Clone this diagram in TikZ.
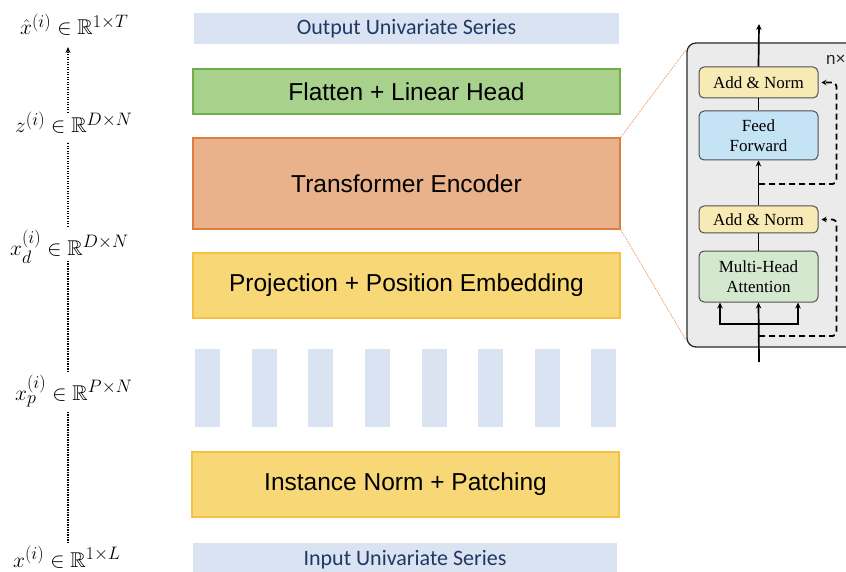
\RequirePackage{fix-cm}
\documentclass[tikz,border=0pt]{standalone}
\usepackage{fontspec}
\usepackage{amssymb}
\usetikzlibrary{arrows.meta,calc}
\newfontfamily\sansA{Liberation Sans}
\newfontfamily\sansC{Carlito}
\newfontfamily\serifT{Liberation Serif}
\DeclareMathSizes{20.74}{20.74}{17.5}{13}

\definecolor{seriesblue}{HTML}{DAE3F1}
\definecolor{navy}{HTML}{203864}
\definecolor{greenfill}{HTML}{A9D18E}
\definecolor{greenedge}{HTML}{72AE48}
\definecolor{orangefill}{HTML}{E9B28A}
\definecolor{orangeedge}{HTML}{DD7E3E}
\definecolor{yellowfill}{HTML}{F8D876}
\definecolor{yellowedge}{HTML}{F4C143}
\definecolor{panelgray}{HTML}{EBEBEB}
\definecolor{panelline}{HTML}{2A2A2A}
\definecolor{subedge}{HTML}{505050}
\definecolor{addnorm}{HTML}{F8EAB4}
\definecolor{ffblue}{HTML}{C4E3F5}
\definecolor{mhagreen}{HTML}{D4E8CF}
\definecolor{zoomorange}{HTML}{F0A26C}

\newcommand{\dimtext}[1]{\scalebox{1.03}{$#1$}}

\tikzset{
  layerbox/.style={draw, line width=1.8pt, minimum width=427pt, inner sep=0pt,
    font=\sansA\fontsize{24.5}{28}\selectfont},
  seriesbox/.style={fill=seriesblue, minimum width=425pt, inner sep=0pt, text=navy,
    font=\sansC\fontsize{22}{26}\selectfont},
  patchbox/.style={fill=seriesblue, minimum width=25pt, minimum height=78pt, inner sep=0pt},
  subbox/.style={draw=subedge, line width=1pt, rounded corners=5pt, minimum width=119pt,
    inner sep=0pt, align=center, font=\serifT\fontsize{17}{19.5}\selectfont},
  dimlabel/.style={anchor=base west, inner sep=0pt, font=\fontsize{20.74}{24}\selectfont},
  dotline/.style={line width=1.5pt, dash pattern=on 1.3pt off 1.2pt},
  flow/.style={line width=1.7pt},
  flowarrow/.style={line width=1.7pt, -{Stealth[length=6pt,width=5.5pt]}},
  resid/.style={line width=1.8pt, dash pattern=on 6pt off 4pt, rounded corners=4pt,
    -{Stealth[length=5pt,width=5.5pt]}},
  zoomline/.style={draw=zoomorange, line width=0.8pt, dash pattern=on 1.6pt off 1pt},
}

\begin{document}
\begin{tikzpicture}[x=1pt,y=-1pt]
\useasboundingbox (0,0) rectangle (846,572);
\clip (0,0) rectangle (846,572);

% ---- main stack of layers ----
\node[seriesbox, minimum height=31pt] (outs) at (406.5,28.5) {Output Univariate Series};
\node[layerbox, fill=greenfill, draw=greenedge, minimum height=45pt] (flat) at (406.5,91.5) {Flatten + Linear Head};
\node[layerbox, fill=orangefill, draw=orangeedge, minimum height=91pt] (enc) at (406.5,183.5) {Transformer Encoder};
\node[layerbox, fill=yellowfill, draw=yellowedge, minimum height=65pt] (proj) at (406.5,285.5) {Projection + Position Embedding};
\foreach \i in {0,...,7}
  \node[patchbox] (p\i) at ({207.5+56.64*\i},388) {};
\node[layerbox, fill=yellowfill, draw=yellowedge, minimum height=65pt] (inst) at (405.5,484.5) {Instance Norm + Patching};
\node[seriesbox, minimum height=34pt, minimum width=424pt] (ins) at (405,560) {Input Univariate Series};

% ---- shapes of the data at each stage ----
\node[dimlabel] (lxh) at (20,35) {\dimtext{\hat{x}^{(i)}\in\mathbb{R}^{1\times T}}};
\node[dimlabel] (lz) at (15,133) {\dimtext{z^{(i)}\in\mathbb{R}^{D\times N}}};
\node[dimlabel] (lxd) at (10,255) {\dimtext{x_d^{(i)}\in\mathbb{R}^{D\times N}}};
\node[dimlabel] (lxp) at (15,400) {\dimtext{x_p^{(i)}\in\mathbb{R}^{P\times N}}};
\node[dimlabel] (lx) at (13,567) {\dimtext{x^{(i)}\in\mathbb{R}^{1\times L}}};
\coordinate (dotx) at (68,0);
\draw[dotline] ($(lx.base -| dotx)+(0,-24)$) -- ($(lxp.base -| dotx)+(0,12)$);
\draw[dotline] ($(lxp.base -| dotx)+(0,-28)$) -- ($(lxd.base -| dotx)+(0,5)$);
\draw[dotline] ($(lxd.base -| dotx)+(0,-28)$) -- ($(lz.base -| dotx)+(0,9)$);
\draw[dotline, -{Stealth[length=6pt,width=5pt]}] ($(lz.base -| dotx)+(0,-20)$) -- ($(lxh.base -| dotx)+(0,12)$);

% ---- encoder detail panel ----
\node[draw=panelline, fill=panelgray, line width=1.3pt, rounded corners=9pt,
      minimum width=193pt, minimum height=304pt, inner sep=0pt] (panel) at (783.5,195) {};
\draw[zoomline] (enc.north east) -- ([yshift=-7pt]panel.north west);
\draw[zoomline] (enc.south east) -- ([yshift=7pt]panel.south west);
\node[anchor=west, inner sep=0pt, font=\sansA\fontsize{17}{20}\selectfont, text=black!85] (nrep) at (826,60) {n×};

\node[subbox, fill=addnorm, minimum height=31pt] (an2) at (758.5,82.5) {Add \& Norm};
\node[subbox, fill=ffblue, minimum height=49pt] (ff) at (758.5,135.5) {Feed\\Forward};
\node[subbox, fill=addnorm, minimum height=27pt] (an1) at (758.5,219.5) {Add \& Norm};
\node[subbox, fill=mhagreen, minimum height=51pt] (mha) at (758.5,276.5) {Multi-Head\\Attention};

\coordinate (encin) at (759,362);
\coordinate (encout) at (759,24);
\coordinate (fork) at (759,324);
\coordinate (r1) at (759,336);
\coordinate (r2) at (759,184);

\draw[flowarrow] (encin) -- (mha.south);
\draw[flowarrow] (fork) -| ([xshift=-38.5pt]mha.south);
\draw[flowarrow] (fork) -| ([xshift=39.5pt]mha.south);
\draw[flow] (mha.north) -- (an1.south);
\draw[flowarrow] (an1.north) -- (ff.south);
\draw[flow] (ff.north) -- (an2.south);
\draw[flowarrow] (an2.north) -- (encout);

\draw[resid] (r1) -| ($(an1.east)+(18,0)$) -- ($(an1.east)+(3,0)$);
\draw[resid] (r2) -| ($(an2.east)+(18,0)$) -- ($(an2.east)+(3,0)$);
\end{tikzpicture}
\end{document}
